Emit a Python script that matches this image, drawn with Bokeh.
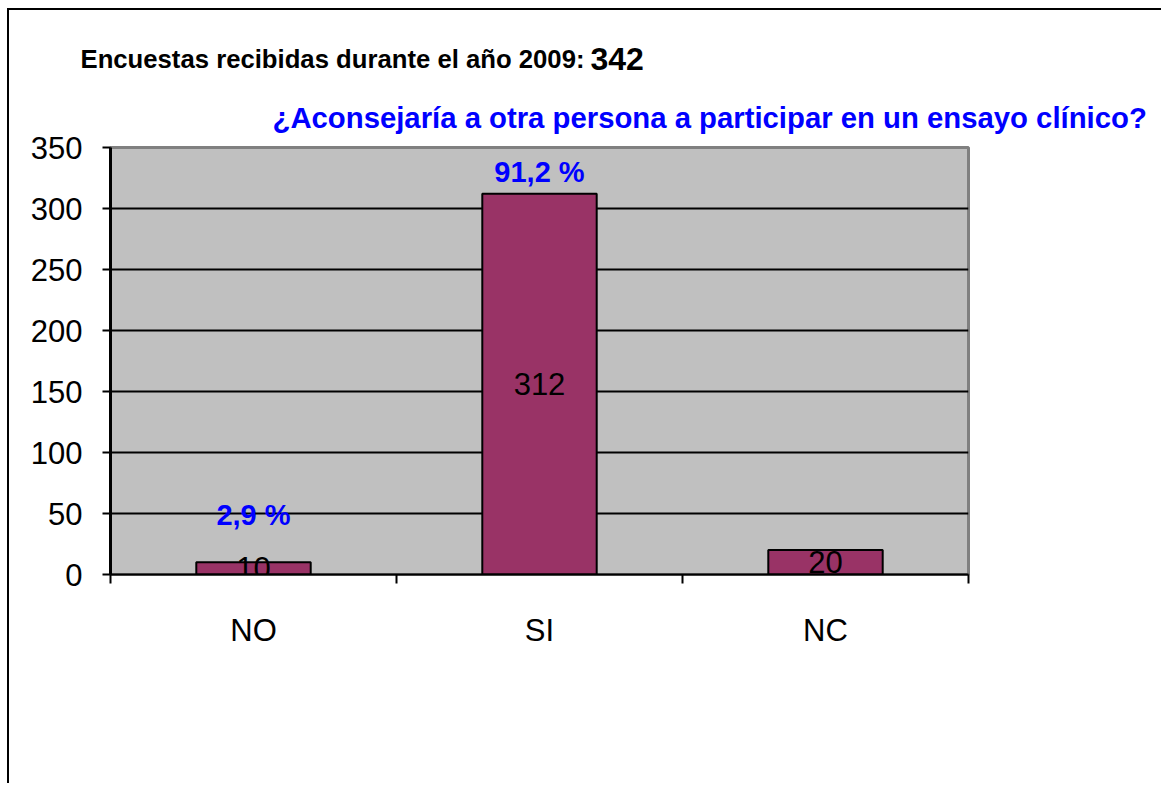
from bokeh.plotting import figure
from bokeh.models import FixedTicker, Label, Range1d, ColumnDataSource
from bokeh.embed import file_html
from bokeh.resources import INLINE
from bokeh.core.properties import value

# ---- data ----
categories = ["NO", "SI", "NC"]
counts = [10, 312, 20]
total_surveys = 342
pct_categories = ["NO", "SI"]          # categories whose percentage is annotated
y_ticks = [0, 50, 100, 150, 200, 250, 300, 350]

title_main = "Encuestas recibidas durante el año 2009:"
title_question = "¿Aconsejaría a otra persona a participar en un ensayo clínico?"

# ---- layout (page pixels) ----
CX0, CY0 = 9, 10            # canvas origin on the page (margin + 2px border)
W, H = 1154, 775
F_LEFT, F_RIGHT, F_TOP, F_BOTTOM = 110, 968, 147, 574
Y_MAX = 350
N = len(categories)

def dx(px):
    return (px - F_LEFT) / ((F_RIGHT - F_LEFT) / N)

def dy(py):
    return (F_BOTTOM - py) / ((F_BOTTOM - F_TOP) / Y_MAX)

FONT = "Liberation Sans"

p = figure(width=W, height=H, output_backend="svg", toolbar_location=None,
           x_range=Range1d(0, N), y_range=Range1d(0, Y_MAX),
           min_border_left=F_LEFT - CX0, min_border_right=W - (F_RIGHT - CX0),
           min_border_top=F_TOP - CY0, min_border_bottom=H - (F_BOTTOM - CY0),
           background_fill_color="#C0C0C0", border_fill_color="white")
p.styles = {"margin-left": "7px", "margin-top": "8px",
            "border-left": "2px solid black", "border-top": "2px solid black"}

p.outline_line_color = "#808080"
p.outline_line_width = 3

xs = [i + 0.5 for i in range(N)]
src = ColumnDataSource(dict(x=xs, counts=counts, mid=[c / 2 for c in counts],
                            lab=[str(c) for c in counts]))

p.vbar(x="x", top="counts", bottom=0, width=0.4, source=src,
       fill_color="#993366", line_color="black", line_width=2)
p.text(x="x", y="mid", text="lab", source=src, text_align="center",
       text_baseline="middle", text_font=value(FONT), text_font_size="31px",
       text_color="black")

# percentage annotations
pct_y = {"NO": dy(514), "SI": dy(171)}
for cat in pct_categories:
    i = categories.index(cat)
    pct = counts[i] / total_surveys * 100
    txt = f"{pct:.1f}".replace(".", ",") + " %"
    p.add_layout(Label(x=xs[i], y=pct_y[cat], text=txt, text_align="center",
                       text_baseline="middle", text_font=FONT, text_font_size="29px",
                       text_font_style="bold", text_color="#0000FF"))

# titles (placed in the panel above the frame so they are not clipped)
p.add_layout(Label(x=dx(272), y=dy(117), text=title_question, text_align="left",
                   text_baseline="alphabetic", text_font=FONT, text_font_size="29.3px",
                   text_font_style="bold", text_color="#0000FF"), "above")
p.add_layout(Label(x=dx(80), y=dy(58), text=title_main, text_align="left",
                   text_baseline="alphabetic", text_font=FONT, text_font_size="25.7px",
                   text_font_style="bold", text_color="black"), "above")
p.add_layout(Label(x=dx(590), y=dy(58), text=str(total_surveys), text_align="left",
                   text_baseline="alphabetic", text_font=FONT, text_font_size="32px",
                   text_font_style="bold", text_color="black"), "above")

# axes
p.yaxis.ticker = FixedTicker(ticks=y_ticks)
p.yaxis.major_label_text_font = FONT
p.yaxis.major_label_text_font_size = "31px"
p.yaxis.major_label_text_color = "black"
p.yaxis.major_tick_out = 8
p.yaxis.major_tick_in = 0
p.yaxis.major_tick_line_width = 2
p.yaxis.major_tick_line_color = "black"
p.yaxis.minor_tick_out = 0
p.yaxis.minor_tick_in = 0
p.yaxis.axis_line_width = 3
p.yaxis.axis_line_color = "black"
p.yaxis.major_label_standoff = 20

p.xaxis.ticker = FixedTicker(ticks=xs, minor_ticks=list(range(N + 1)))
p.xaxis.major_label_overrides = {x: c for x, c in zip(xs, categories)}
p.xaxis.major_label_text_font = FONT
p.xaxis.major_label_text_font_size = "31px"
p.xaxis.major_label_text_color = "black"
p.xaxis.major_tick_out = 0
p.xaxis.major_tick_in = 0
p.xaxis.minor_tick_out = 9
p.xaxis.minor_tick_in = 0
p.xaxis.minor_tick_line_width = 2
p.xaxis.minor_tick_line_color = "black"
p.xaxis.axis_line_width = 2
p.xaxis.axis_line_color = "black"
p.xaxis.major_label_standoff = 29

p.xgrid.visible = False
p.ygrid.ticker = FixedTicker(ticks=y_ticks[1:-1])
p.ygrid.grid_line_color = "black"
p.ygrid.grid_line_width = 2

open("out.html", "w").write(file_html(p, INLINE))
